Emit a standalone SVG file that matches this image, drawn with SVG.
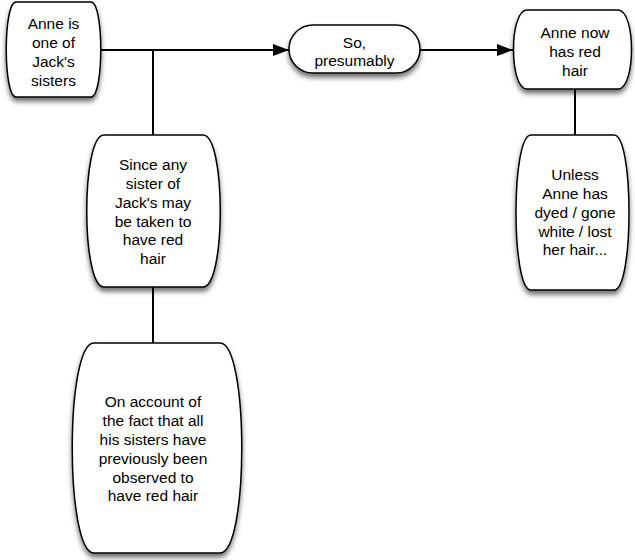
<svg xmlns="http://www.w3.org/2000/svg" width="635" height="560" viewBox="0 0 635 560">
  <defs>
    <filter id="shadow" x="-20%" y="-20%" width="140%" height="140%">
      <feDropShadow dx="0" dy="4" stdDeviation="2.5" flood-color="#000" flood-opacity="0.55"/>
    </filter>
    <marker id="arrow" markerWidth="16" markerHeight="12" refX="16" refY="6" orient="auto" markerUnits="userSpaceOnUse">
      <path d="M0,0 L16,6 L0,12 Z" fill="#000"/>
    </marker>
  </defs>
  <style>
    .shape { fill: #fff; stroke: #000; stroke-width: 1.5; filter: url(#shadow); }
    .label { font-family: "Liberation Sans", Arial, sans-serif; font-size: 15.5px; fill: #000; text-anchor: middle; }
    .link { fill: none; stroke: #000; stroke-width: 2; }
  </style>

  <g id="connectors">
    <line class="link" x1="100" y1="50" x2="289" y2="50" marker-end="url(#arrow)"/>
    <line class="link" x1="153" y1="50" x2="153" y2="136"/>
    <line class="link" x1="153" y1="287" x2="153" y2="344"/>
    <line class="link" x1="420" y1="50" x2="513" y2="50" marker-end="url(#arrow)"/>
    <line class="link" x1="575" y1="89" x2="575" y2="136"/>
  </g>

  <!-- barrel shapes: corners (a1,a2) with sides bulging to (xl,xr) -->
  <g id="anne-sister">
    <path class="shape" d="M16,2 H91 C104,2 104,97 91,97 H16 C3,97 3,2 16,2 Z"/>
    <text class="label" x="53.5" y="29">Anne is</text>
    <text class="label" x="53.5" y="48">one of</text>
    <text class="label" x="53.5" y="67">Jack's</text>
    <text class="label" x="53.5" y="86">sisters</text>
  </g>

  <g id="presumably">
    <rect class="shape" x="289" y="25" width="131" height="48" rx="24" ry="24"/>
    <text class="label" x="354.5" y="48">So,</text>
    <text class="label" x="354.5" y="66">presumably</text>
  </g>

  <g id="red-hair">
    <path class="shape" d="M527,10 H618 C636,10 636,89 618,89 H527 C509,89 509,10 527,10 Z"/>
    <text class="label" x="575" y="38">Anne now</text>
    <text class="label" x="575" y="57">has red</text>
    <text class="label" x="575" y="76">hair</text>
  </g>

  <g id="unless">
    <path class="shape" d="M531,135 H614 C634,135 634,290 614,290 H531 C511,290 511,135 531,135 Z"/>
    <text class="label" x="575" y="180">Unless</text>
    <text class="label" x="575" y="199">Anne has</text>
    <text class="label" x="575" y="218">dyed / gone</text>
    <text class="label" x="575" y="237">white / lost</text>
    <text class="label" x="575" y="255">her hair...</text>
  </g>

  <g id="since-any">
    <path class="shape" d="M104,135 H203 C226,135 226,287 203,287 H104 C81,287 81,135 104,135 Z"/>
    <text class="label" x="153" y="170">Since any</text>
    <text class="label" x="153" y="189">sister of</text>
    <text class="label" x="153" y="208">Jack's may</text>
    <text class="label" x="153" y="227">be taken to</text>
    <text class="label" x="153" y="245">have red</text>
    <text class="label" x="153" y="264">hair</text>
  </g>

  <g id="on-account">
    <path class="shape" d="M94,343 H220 C249,343 249,553 220,553 H94 C65,553 65,343 94,343 Z"/>
    <text class="label" x="153" y="407">On account of</text>
    <text class="label" x="153" y="426">the fact that all</text>
    <text class="label" x="153" y="445">his sisters have</text>
    <text class="label" x="153" y="464">previously been</text>
    <text class="label" x="153" y="483">observed to</text>
    <text class="label" x="153" y="501">have red hair</text>
  </g>
</svg>
